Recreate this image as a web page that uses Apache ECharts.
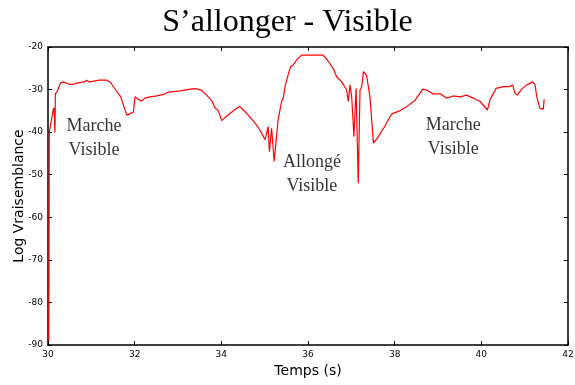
<!DOCTYPE html>
<html lang="fr">
<head>
  <meta charset="UTF-8">
  <title>S'allonger - Visible</title>
  <script src="https://cdn.jsdelivr.net/npm/echarts@6/dist/echarts.min.js"></script>
  <style>
    html, body { margin: 0; padding: 0; background: #fff; }
    #chart { width: 575px; height: 385px; }
  </style>
</head>
<body>
  <div id="chart"></div>
  <script>
    // temps (s) et log-vraisemblance
    const temps = [
      30.02, 30.03, 30.12, 30.14, 30.16, 30.17, 30.21, 30.29, 30.35, 30.48,
      30.55, 30.67, 30.83, 30.89, 30.95, 31.06, 31.18, 31.36, 31.45, 31.56,
      31.68, 31.75, 31.82, 31.91, 31.97, 32.01, 32.08, 32.16, 32.24, 32.35,
      32.51, 32.65, 32.78, 33.05, 33.28, 33.43, 33.55, 33.66, 33.78, 33.85,
      33.93, 34.01, 34.08, 34.20, 34.35, 34.43, 34.51, 34.62, 34.78, 34.89,
      35.01, 35.08, 35.11, 35.16, 35.22, 35.31, 35.39, 35.43, 35.47, 35.55,
      35.60, 35.66, 35.74, 35.85, 36.05, 36.35, 36.47, 36.58, 36.66, 36.78,
      36.89, 36.93, 36.97, 37.01, 37.06, 37.11, 37.16, 37.20, 37.24, 37.28,
      37.35, 37.43, 37.51, 37.62, 37.78, 37.93, 38.12, 38.28, 38.47, 38.65,
      38.74, 38.88, 39.05, 39.20, 39.35, 39.51, 39.66, 39.81, 39.97, 40.14,
      40.20, 40.28, 40.34, 40.51, 40.66, 40.72, 40.78, 40.83, 40.93, 41.05,
      41.19, 41.24, 41.28, 41.35, 41.43, 41.45
    ];
    const logVrais = [
      -89, -40, -34.8, -34.3, -40, -31, -30.5, -28.4, -28.2, -28.7,
      -28.8, -28.5, -28.2, -27.8, -28.2, -28, -27.8, -27.8, -28.4, -30.1,
      -31.7, -34, -36, -35.6, -35.3, -31.7, -32.3, -32.7, -32, -31.7,
      -31.5, -31.2, -30.6, -30.3, -29.9, -29.8, -30.2, -31.3, -32.6, -34.2,
      -35, -37.3, -36.6, -35.6, -34.4, -34, -34.8, -36, -37.9, -39.5,
      -41.8, -38.7, -44.6, -39.1, -46.9, -37.1, -32.8, -32, -29.3, -26.2,
      -24.6, -24.2, -23, -21.9, -21.9, -21.9, -23.4, -25, -27, -28.2,
      -30.1, -32.8, -28.9, -32, -41.1, -29.7, -52, -30.1, -29.3, -25.8,
      -26.6, -31.7, -42.6, -41.1, -38.5, -35.7, -35, -34, -32.5, -29.9,
      -30.1, -31, -31, -32, -31.5, -31.7, -31.3, -32, -32.8, -34.8,
      -32.4, -30.9, -29.7, -29.3, -29.3, -28.9, -30.9, -31.3, -29.9, -28.9,
      -28.2, -28.9, -31.7, -34.4, -34.6, -32.3
    ];

    // annotations (texte + position en coordonnées des données)
    const notesTexte = ['Marche\nVisible', 'Allongé\nVisible', 'Marche\nVisible'];
    const notesX = [31.06, 36.09, 39.35];
    const notesY = [-41.4, -49.8, -41.1];

    const xTicks = { min: 30, max: 42, interval: 2 };
    const yTicks = { min: -90, max: -20, interval: 10 };

    const chart = echarts.init(document.getElementById('chart'));

    const axisLine = { show: true, lineStyle: { color: '#000', width: 1.5 } };
    const tick = { show: true, inside: true, length: 4, lineStyle: { color: '#000', width: 1 } };
    const tickLabel = { fontFamily: 'DejaVu Sans', fontSize: 9, color: '#000' };

    chart.setOption({
      animation: false,
      title: {
        text: 'S\u2019allonger - Visible',
        left: 'center',
        top: 2,
        textStyle: { fontFamily: 'Liberation Serif', fontSize: 32, fontWeight: 'normal', color: '#000' }
      },
      grid: { left: 48, right: 7, top: 47, bottom: 40, outerBoundsMode: 'none', containLabel: false },
      xAxis: [
        {
          type: 'value', ...xTicks,
          name: 'Temps (s)', nameLocation: 'middle', nameGap: 19, nameMoveOverlap: false,
          nameTextStyle: { fontFamily: 'DejaVu Sans', fontSize: 14, color: '#000' },
          axisLine, axisTick: tick, splitLine: { show: false },
          axisLabel: { ...tickLabel, margin: 5 }
        },
        {
          type: 'value', position: 'top', ...xTicks,
          axisLine, axisTick: tick, splitLine: { show: false },
          axisLabel: { show: false }
        }
      ],
      yAxis: [
        {
          type: 'value', ...yTicks,
          name: 'Log Vraisemblance', nameLocation: 'middle', nameGap: 22, nameMoveOverlap: false,
          nameTextStyle: { fontFamily: 'DejaVu Sans', fontSize: 14, color: '#000' },
          axisLine, axisTick: tick, splitLine: { show: false },
          axisLabel: { ...tickLabel, margin: 5 }
        },
        {
          type: 'value', position: 'right', ...yTicks,
          axisLine, axisTick: tick, splitLine: { show: false },
          axisLabel: { show: false }
        }
      ],
      series: [
        {
          type: 'line',
          data: temps.map((t, i) => [t, logVrais[i]]),
          showSymbol: false,
          lineStyle: { color: '#ff0000', width: 1.2 },
          clip: true
        },
        {
          type: 'scatter',
          symbolSize: 0,
          data: notesX.map((x, i) => [x, notesY[i], notesTexte[i]]),
          label: {
            show: true,
            position: 'inside',
            formatter: p => p.value[2],
            fontFamily: 'Liberation Serif',
            fontSize: 18,
            lineHeight: 24,
            color: '#000',
            align: 'center'
          },
          silent: true
        }
      ]
    });
  </script>
</body>
</html>
